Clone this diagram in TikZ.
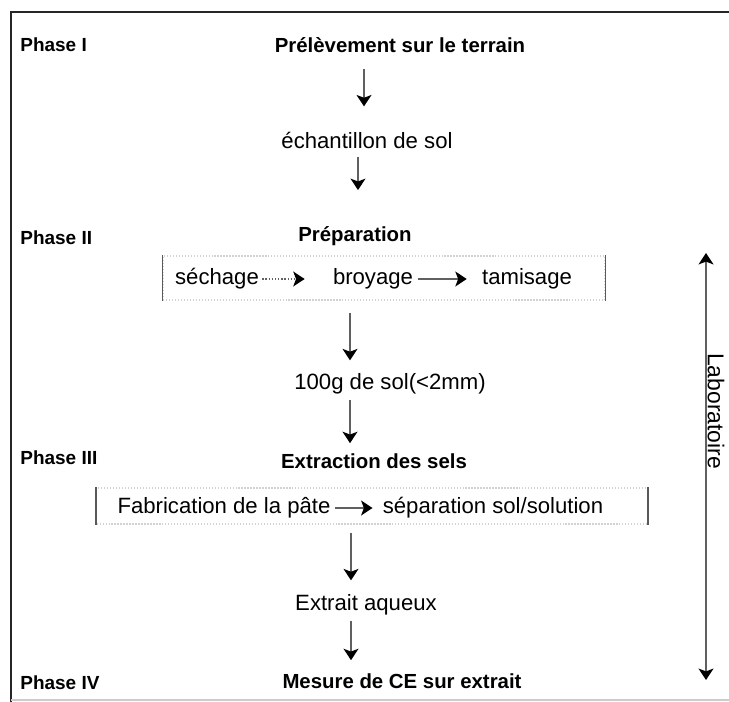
\documentclass[tikz,border=0pt]{standalone}
\usepackage{fontspec}
\setmainfont{Liberation Sans}
\usetikzlibrary{arrows.meta}

\tikzset{
  >={Stealth[length=6.5pt,width=8.5pt,inset=1.6pt,black]},
  phase/.style={anchor=west,inner sep=0pt,font=\fontsize{10.8}{13}\selectfont\bfseries},
  head/.style={inner sep=0pt,font=\fontsize{11.6}{14}\selectfont\bfseries},
  txt/.style={inner sep=0pt,font=\fontsize{12.6}{15}\selectfont},
  stagebox/.style={draw=gray!35,densely dotted,line width=0.7pt,inner sep=0pt},
  boxside/.style={draw=gray!70!black,line width=0.9pt},
  flow/.style={draw=gray!75!black,line width=0.8pt,->},
  dflow/.style={flow,densely dotted},
  labarrow/.style={draw=gray!75!black,line width=0.9pt,<->},
}

\begin{document}
\begin{tikzpicture}[x=0.02cm,y=-0.02cm]
\useasboundingbox (0,0) rectangle (729,702);
% frame
\draw[line width=1.6pt,black!85] (729,12) -- (11,12) -- (11,702);
\draw[line width=1.2pt,gray!40] (11,700) -- (729,700);

% phase labels
\node[phase] (p1) at (20,45) {Phase I};
\node[phase] (p2) at (20,238) {Phase II};
\node[phase] (p3) at (20,458) {Phase III};
\node[phase] (p4) at (20,683) {Phase IV};

% main column
\node[head] (terrain) at (400,45) {Prélèvement sur le terrain};
\node[txt] (echant) at (367,140) {échantillon de sol};
\node[head] (prep) at (355,236) {Préparation};
\node[stagebox,minimum width=8.84cm,minimum height=0.88cm] (prepbox) at (384,278) {};
\node[txt] (sech) at (217,279) {séchage};
\node[txt] (broy) at (373,279) {broyage};
\node[txt] (tami) at (527,279) {tamisage};
\node[txt] (sol) at (390,384) {100g de sol(<2mm)};
\node[head] (extr) at (374,461) {Extraction des sels};
\node[stagebox,minimum width=11.02cm,minimum height=0.72cm] (extrbox) at (372,506) {};
\node[txt] (fabr) at (224,508) {Fabrication de la pâte};
\node[txt] (sepa) at (493,508) {séparation sol/solution};
\node[txt] (aqueux) at (366,605) {Extrait aqueux};
\node[head] (mesure) at (402,681) {Mesure de CE sur extrait};

% box sides
\draw[boxside] (prepbox.north west) -- (prepbox.south west);
\draw[boxside] (prepbox.north east) -- (prepbox.south east);
\draw[boxside] (extrbox.north west) -- (extrbox.south west);
\draw[boxside] (extrbox.north east) -- (extrbox.south east);

% column positions of the vertical arrows
\coordinate (ca) at (364,0);
\coordinate (cb) at (358,0);
\coordinate (cc) at (350,0);
\coordinate (cd) at (351,0);

\draw[flow,shorten <=0.32cm,shorten >=0.5cm] (terrain.south -| ca) -- (echant.north -| ca);
\draw[flow,shorten <=0.16cm,shorten >=0.72cm] (echant.south -| cb) -- (prep.north -| cb);
\draw[flow,shorten <=0.24cm,shorten >=0.26cm] (prepbox.south -| cc) -- (sol.north -| cc);
\draw[flow,line width=1pt,shorten <=0.1cm,shorten >=0.2cm] (sol.south -| cc) -- (extr.north -| cc);
\draw[flow,shorten <=0.16cm,shorten >=0.28cm] (extrbox.south -| cd) -- (aqueux.north -| cd);
\draw[flow,line width=1pt,shorten <=0.1cm,shorten >=0.26cm] (aqueux.south -| cd) -- (mesure.north -| cd);

% arrows inside the boxes
\draw[dflow,shorten <=0.06cm,shorten >=0.56cm] (sech) -- (broy);
\draw[flow,shorten <=0.1cm,shorten >=0.3cm] (broy) -- (tami);
\draw[flow,shorten <=0.08cm,shorten >=0.2cm] (fabr) -- (sepa);

% laboratoire
\coordinate (labtop) at (706,253);
\coordinate (labbot) at (706,680);
\draw[labarrow] (labtop) -- (labbot);
\node[txt,rotate=-90,font=\fontsize{13}{15}\selectfont] (labo) at (716,411) {Laboratoire};
\end{tikzpicture}
\end{document}
